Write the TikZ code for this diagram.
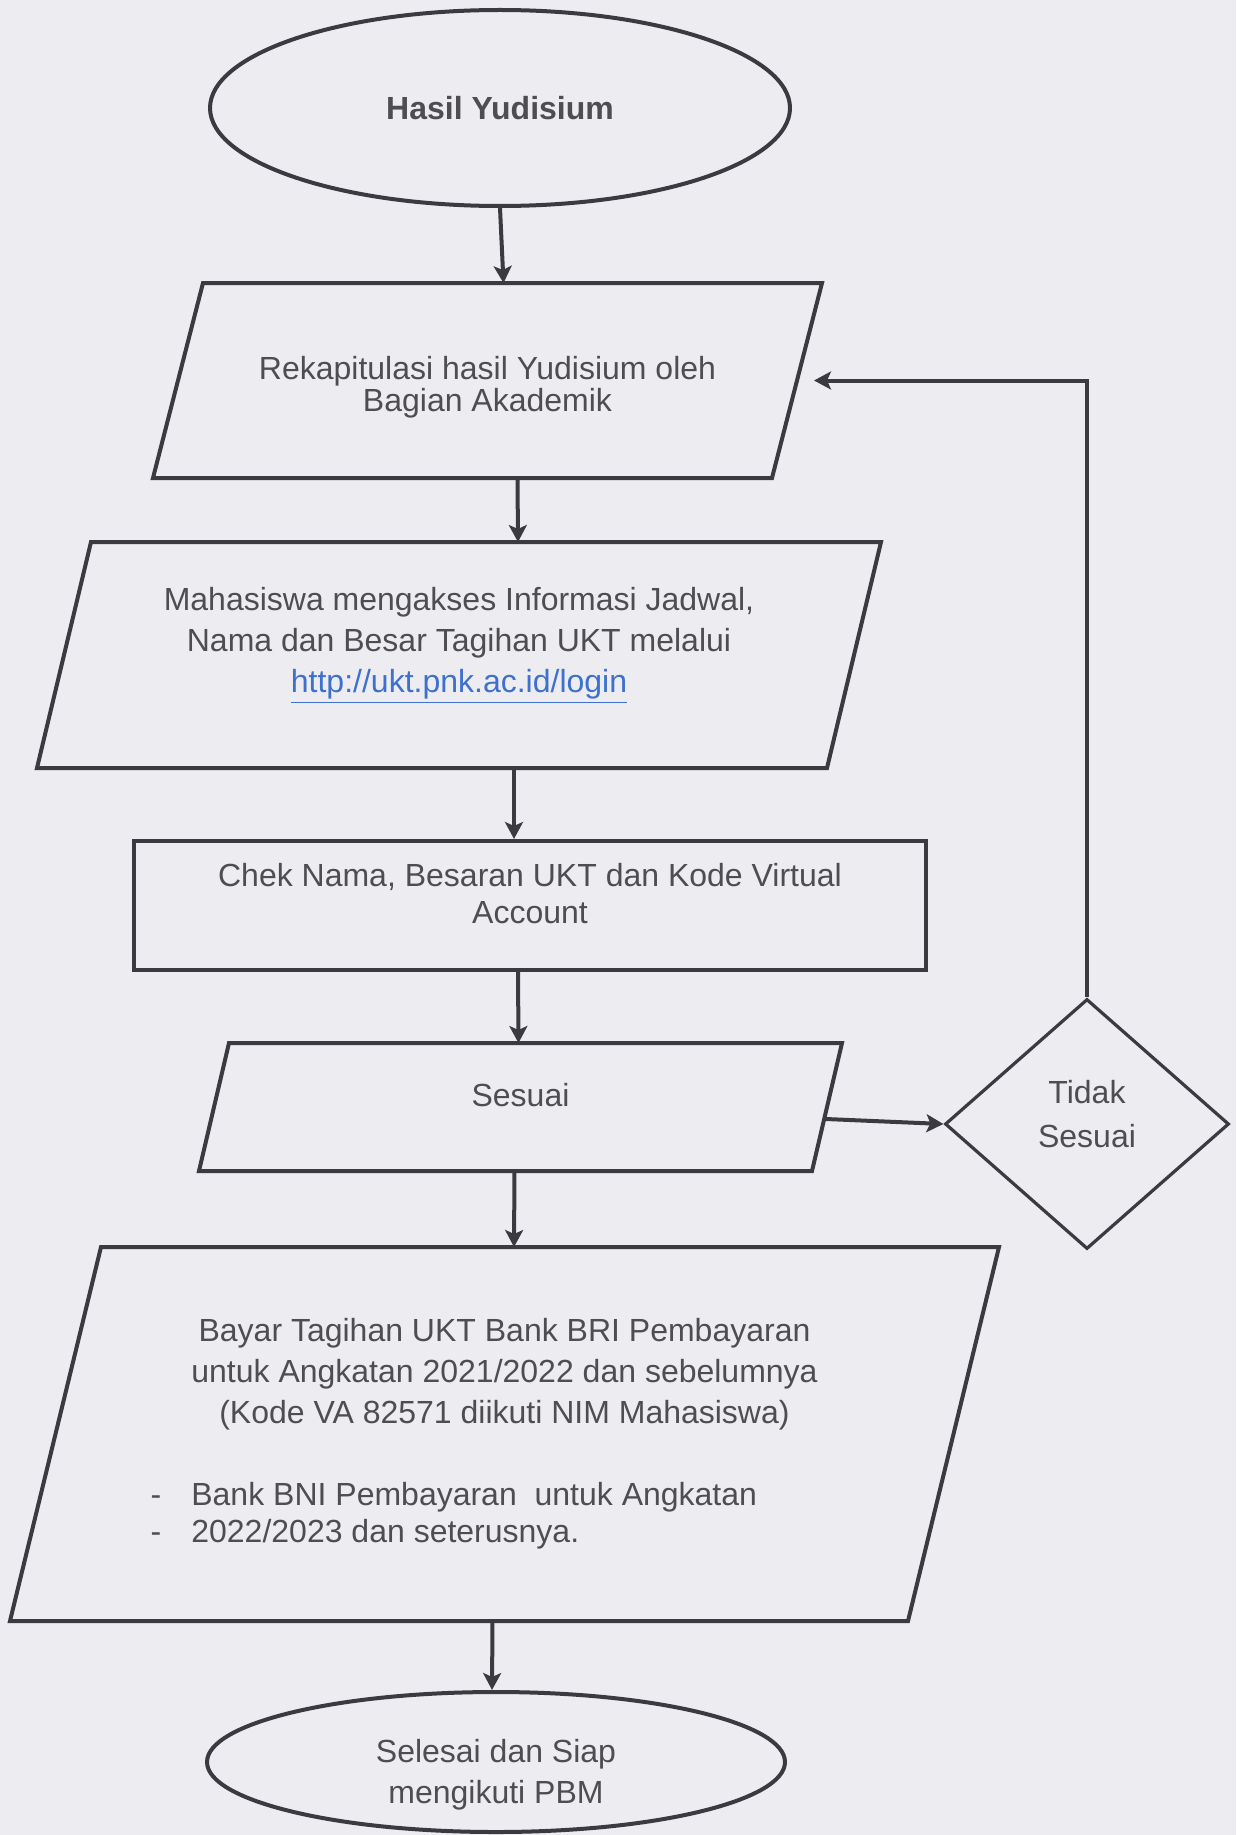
\documentclass[tikz,border=0pt]{standalone}
\usepackage{fontspec}
\setmainfont{Liberation Sans}
\usetikzlibrary{shapes.geometric,arrows.meta,calc}
\definecolor{paper}{RGB}{237,237,241}
\definecolor{ink}{RGB}{58,58,64}
\definecolor{txt}{RGB}{78,78,82}
\definecolor{linkblue}{RGB}{62,112,205}
\newcommand{\pushup}[1]{\rule[-#1]{0pt}{#1}}
\newcommand{\pushdown}[1]{\rule{0pt}{#1}}
% slanted outline round a named io node
\newcommand{\ioframe}[2]{\draw[ink,line width=2pt] ([xshift=#2]#1.north west) -- (#1.north east)
  -- ([xshift=-#2]#1.south east) -- (#1.south west) -- cycle;}

\begin{document}
\begin{tikzpicture}[x=0.5pt,y=-0.5pt,
  >={Stealth[length=8.5pt,width=9pt,inset=2pt]},
  every node/.style={text=txt,font=\fontsize{16}{20.5}\selectfont,align=center,inner sep=0pt},
  term/.style={ellipse,draw=ink,line width=2pt},
  io/.style={rectangle},
  proc/.style={rectangle,draw=ink,line width=2pt},
  decision/.style={diamond,draw=ink,line width=1.6pt}]
  \fill[paper] (0,0) rectangle (1236,1835);
  \useasboundingbox (0,0) rectangle (1236,1835);
  \begin{scope}[ink,line width=2pt]
    \node (start) at (500,108) [term,minimum width=290pt,minimum height=98pt]{\textbf{Hasil Yudisium}};
    \node (rekap) at (487.5,380.5) [io,minimum width=332.5pt,minimum height=95.5pt,
      font=\fontsize{16}{16}\selectfont]{\pushdown{18pt}Rekapitulasi hasil Yudisium oleh\\Bagian Akademik};
    \node (akses) at (459,655) [io,minimum width=420pt,minimum height=111pt]{Mahasiswa mengakses Informasi Jadwal,\\Nama dan Besar Tagihan UKT melalui\\\textcolor{linkblue}{\underline{http://ukt.pnk.ac.id/login}}\pushup{15pt}};
    \node (chek) at (530,905.5) [proc,minimum width=396pt,minimum height=64.5pt,
      font=\fontsize{16}{18.5}\selectfont]{Chek Nama, Besaran UKT dan Kode Virtual\\Account\pushup{12pt}};
    \node (sesuai) at (520.5,1107) [io,minimum width=319.5pt,minimum height=62pt]{Sesuai\pushup{12pt}};
    \node (tidak) at (1087,1124) [decision,minimum width=142pt,minimum height=125pt,
      font=\fontsize{16}{22}\selectfont]{Tidak\\Sesuai\pushup{10pt}};
    \node (bayar) at (504.5,1434) [io,minimum width=492.5pt,minimum height=185pt]{%
      \begin{tabular}{@{}l@{}}
        \multicolumn{1}{@{}c@{}}{Bayar Tagihan UKT Bank BRI Pembayaran}\\
        untuk Angkatan 2021/2022 dan sebelumnya\\
        \multicolumn{1}{@{}c@{}}{(Kode VA 82571 diikuti NIM Mahasiswa)}\\[20.5pt]
        \llap{-\hspace{15pt}}Bank BNI Pembayaran\ \ untuk Angkatan\\[-2pt]
        \llap{-\hspace{15pt}}2022/2023 dan seterusnya.
      \end{tabular}};
    \node (selesai) at (496,1762) [term,minimum width=289pt,minimum height=70pt]{\pushdown{24pt}Selesai dan Siap\\mengikuti PBM};

    \ioframe{rekap}{25pt}
    \ioframe{akses}{27pt}
    \ioframe{sesuai}{15pt}
    \ioframe{bayar}{45.5pt}

    \draw[->] (start.south) -- ([xshift=8pt]rekap.north);
    \draw[->] ([xshift=15pt]rekap.south) -- ([xshift=29.5pt]akses.north);
    \draw[->] ([xshift=27.5pt]akses.south) -- ([xshift=-8pt]chek.north);
    \draw[->] ([xshift=-6pt]chek.south) -- ([xshift=-1pt]sesuai.north);
    \draw[->] ([xshift=-3pt]sesuai.south) -- ([xshift=4.75pt]bayar.north);
    \draw[->] ([xshift=-6pt]bayar.south) -- ([xshift=-2pt]selesai.north);
    \draw[->] ([xshift=-8pt,yshift=-6pt]sesuai.east) -- (tidak.west);
    \draw[->] (tidak.north) |- ([xshift=-4pt]rekap.east);
  \end{scope}
\end{tikzpicture}
\end{document}
